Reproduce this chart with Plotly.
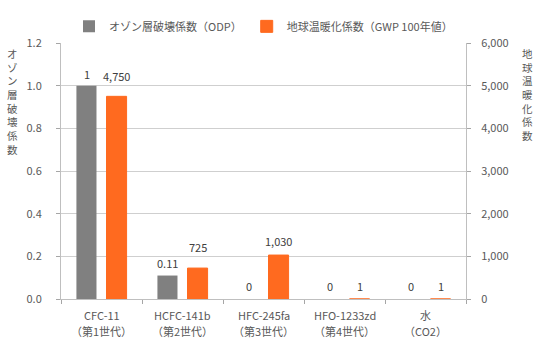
import plotly.graph_objects as go

# Refrigerants compared by generation
names = ["CFC-11", "HCFC-141b", "HFC-245fa", "HFO-1233zd", "水"]
generations = ["（第1世代）", "（第2世代）", "（第3世代）", "（第4世代）", "（CO2）"]
odp = [1, 0.11, 0, 0, 0]
gwp = [4750, 725, 1030, 1, 1]

odp_name = "オゾン層破壊係数（ODP）"
gwp_name = "地球温暖化係数（GWP 100年値）"
left_title = "オゾン層破壊係数"
right_title = "地球温暖化係数"

# Pixel lift of each value label above its bar top
odp_label_lift = [12, 13, 13, 13, 13]
gwp_label_lift = [20, 21, 14, 13, 13]

categories = [f"{n}<br>{g}" for n, g in zip(names, generations)]

FONT = "Noto Sans CJK JP, Noto Sans, sans-serif"
GREY_TEXT = "#595959"
LABEL_TEXT = "#404040"
ODP_COLOR = "#808080"
GWP_COLOR = "#ff6a1f"
BAR_SHIFT = 15  # px from category centre to each bar centre

fig = go.Figure()
fig.add_trace(go.Bar(
    x=categories, y=odp, name=odp_name, offsetgroup="odp", yaxis="y",
    marker=dict(color=ODP_COLOR, line=dict(width=0)),
))
fig.add_trace(go.Bar(
    x=categories, y=gwp, name=gwp_name, offsetgroup="gwp", yaxis="y2",
    marker=dict(color=GWP_COLOR, line=dict(width=1, color=GWP_COLOR)),
))

# Value labels above the bars
for cat, v, lift in zip(categories, odp, odp_label_lift):
    fig.add_annotation(
        x=cat, y=v, xref="x", yref="y", text=f"{v:g}", showarrow=False,
        xshift=-BAR_SHIFT, yshift=lift, yanchor="middle",
        font=dict(size=11, color=LABEL_TEXT, family=FONT),
    )
for cat, v, lift in zip(categories, gwp, gwp_label_lift):
    fig.add_annotation(
        x=cat, y=v, xref="x", yref="y2", text=f"{v:,}", showarrow=False,
        xshift=BAR_SHIFT, yshift=lift, yanchor="middle",
        font=dict(size=11, color=LABEL_TEXT, family=FONT),
    )

# Two-line category labels under the axis
for cat, n, g in zip(categories, names, generations):
    for text, shift in ((n, -16), (g, -32)):
        fig.add_annotation(
            x=cat, y=0, xref="x", yref="paper", text=text, showarrow=False,
            yshift=shift, yanchor="middle",
            font=dict(size=11, color=GREY_TEXT, family=FONT),
        )

axis_common = dict(
    showline=True, linecolor="#bfbfbf", linewidth=1,
    ticks="outside", ticklen=4, tickcolor="#a6a6a6",
    tickfont=dict(size=11, color=GREY_TEXT, family=FONT),
    zeroline=False,
)

fig.update_layout(
    width=540, height=350,
    margin=dict(l=61, r=74, t=35, b=51),
    paper_bgcolor="white", plot_bgcolor="white",
    font=dict(family=FONT, size=11, color=GREY_TEXT),
    barmode="group", bargap=0.257, bargroupgap=0.333,
    showlegend=True,
    legend=dict(
        orientation="h", x=0.5, xanchor="center", y=1.065, yanchor="middle",
        font=dict(size=11, color=GREY_TEXT, family=FONT),
        itemwidth=30, bgcolor="rgba(0,0,0,0)",
    ),
    xaxis=dict(
        **axis_common, tickson="boundaries", showticklabels=False,
        showgrid=False,
    ),
    yaxis=dict(
        **axis_common, range=[0, 1.2], dtick=0.2, tickformat=".1f",
        showgrid=True, gridcolor="#cfcfcf", gridwidth=1,
        ticklabelstandoff=12,
    ),
    yaxis2=dict(
        **axis_common, overlaying="y", side="right", range=[0, 6000],
        dtick=1000, tickformat=",", showgrid=False,
        ticklabelstandoff=8,
    ),
)

# Vertical (stacked-character) axis titles
fig.add_annotation(
    text="<br>".join(left_title), xref="paper", yref="paper",
    x=-0.119, y=0.995, xanchor="center", yanchor="top", showarrow=False,
    font=dict(size=10.5, color=GREY_TEXT, family=FONT),
)
fig.add_annotation(
    text="<br>".join(right_title), xref="paper", yref="paper",
    x=1.153, y=0.995, xanchor="center", yanchor="top", showarrow=False,
    font=dict(size=10.5, color=GREY_TEXT, family=FONT),
)

fig.write_html("out.html")
